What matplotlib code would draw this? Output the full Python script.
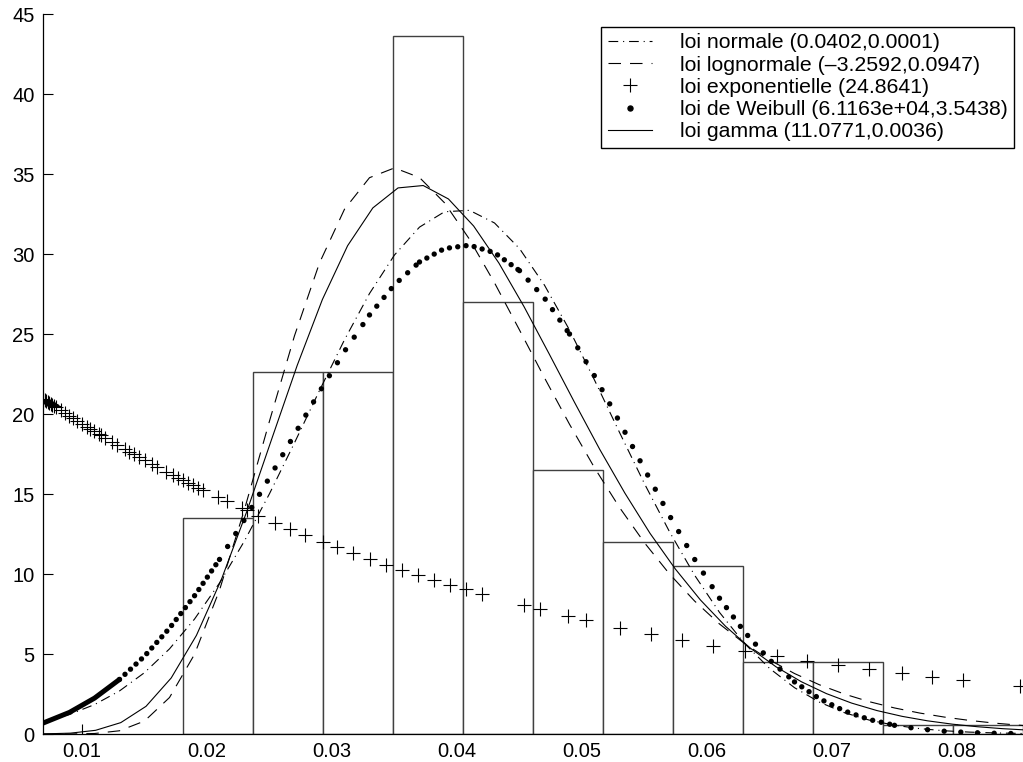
import numpy as np
import matplotlib
matplotlib.use('Agg')
import matplotlib.pyplot as plt
from matplotlib.lines import Line2D

plt.rcParams['font.family'] = ['Liberation Sans', 'DejaVu Sans']
plt.rcParams['lines.scale_dashes'] = False

# histogramme normalise (densite)
bin_edges = [0.01808, 0.02368, 0.02928, 0.03488, 0.04048, 0.04608, 0.05168,
             0.05728, 0.06288, 0.06848, 0.07408, 0.07968, 0.08528]
bin_heights = [13.5, 22.6, 22.6, 43.6, 27.0, 16.5, 12.0, 10.5, 4.5, 4.5, 0.56, 0.56]

# densites ajustees
curve_x = [0.0069, 0.0090, 0.0110, 0.0130, 0.0150, 0.0170, 0.0190, 0.0210, 0.0230, 0.0250,
           0.0270, 0.0290, 0.0310, 0.0330, 0.0350, 0.0370, 0.0390, 0.0410, 0.0430, 0.0450,
           0.0470, 0.0490, 0.0510, 0.0530, 0.0550, 0.0570, 0.0590, 0.0610, 0.0630, 0.0650,
           0.0670, 0.0690, 0.0710, 0.0730, 0.0750, 0.0770, 0.0790, 0.0810, 0.0830, 0.0853]
normal_y = [0.773, 1.222, 1.838, 2.691, 3.835, 5.320, 7.181, 9.435, 12.07, 15.02,
            18.20, 21.47, 24.64, 27.53, 29.94, 31.68, 32.64, 32.73, 31.94, 30.34,
            28.05, 25.25, 22.12, 18.85, 15.64, 12.64, 9.934, 7.600, 5.660, 4.103,
            2.895, 1.988, 1.329, 0.865, 0.548, 0.338, 0.202, 0.118, 0.067, 0.034]
lognormal_y = [0.000, 0.002, 0.031, 0.202, 0.810, 2.279, 4.978, 8.993, 14.04, 19.56,
               24.89, 29.44, 32.80, 34.77, 35.38, 34.78, 33.20, 30.92, 28.20, 25.25,
               22.26, 19.36, 16.64, 14.16, 11.95, 10.00, 8.316, 6.876, 5.656, 4.632,
               3.780, 3.074, 2.493, 2.016, 1.628, 1.312, 1.056, 0.849, 0.681, 0.529]
weibull_y = [0.688, 1.351, 2.242, 3.410, 4.866, 6.613, 8.637, 10.91, 13.40, 16.03,
             18.72, 21.39, 23.92, 26.19, 28.08, 29.50, 30.34, 30.55, 30.08, 28.96,
             27.24, 25.00, 22.38, 19.51, 16.55, 13.65, 10.93, 8.486, 6.379, 4.638,
             3.256, 2.205, 1.438, 0.902, 0.543, 0.313, 0.173, 0.091, 0.046, 0.020]
gamma_x = [0.006956, 0.009072, 0.011089, 0.013105, 0.015121, 0.017137, 0.019153, 0.021169,
           0.023185, 0.025201, 0.027217, 0.029233, 0.031250, 0.033266, 0.035282, 0.037298,
           0.039314, 0.041330, 0.043346, 0.045362, 0.047378, 0.049394, 0.051411, 0.053427,
           0.055443, 0.057459, 0.059475, 0.061491, 0.063507, 0.065523, 0.067539, 0.069555,
           0.071572, 0.073588, 0.075604, 0.077620, 0.079636, 0.081652, 0.083668, 0.085987]
gamma_y = [0.0065, 0.053, 0.231, 0.712, 1.729, 3.502, 6.162, 9.693, 13.91, 18.49,
           23.04, 27.16, 30.52, 32.88, 34.13, 34.28, 33.44, 31.75, 29.44, 26.71,
           23.75, 20.74, 17.80, 15.06, 12.54, 10.32, 8.376, 6.726, 5.342, 4.199,
           3.270, 2.524, 1.931, 1.466, 1.104, 0.826, 0.614, 0.453, 0.332, 0.231]

# loi exponentielle (marqueurs +)
expo_x = [0.00688, 0.00700, 0.00712, 0.00724, 0.00736, 0.00748, 0.00760, 0.00776, 0.00792,
          0.00830, 0.00864, 0.00898, 0.00930, 0.00962, 0.00998, 0.01038, 0.01064, 0.01096,
          0.01138, 0.01152, 0.01184, 0.01238, 0.01282, 0.01344, 0.01378, 0.01416, 0.01458,
          0.01504, 0.01558, 0.01598, 0.01672, 0.01730, 0.01770, 0.01810, 0.01850, 0.01886,
          0.01930, 0.01970, 0.02090, 0.02160, 0.02278, 0.02318, 0.02410, 0.02544, 0.02664,
          0.02784, 0.02926, 0.03038, 0.03166, 0.03304, 0.03432, 0.03560, 0.03688, 0.03816,
          0.03944, 0.04072, 0.04200, 0.04536, 0.04664, 0.04888, 0.05032, 0.05304, 0.05552,
          0.05800, 0.06048, 0.06304, 0.06560, 0.06800, 0.07048, 0.07296, 0.07560, 0.07800,
          0.08048, 0.08504]
expo_y = [20.954, 20.892, 20.830, 20.768, 20.706, 20.644, 20.583, 20.501, 20.420,
          20.227, 20.057, 19.888, 19.731, 19.575, 19.400, 19.208, 19.084, 18.933,
          18.736, 18.671, 18.523, 18.276, 18.077, 17.800, 17.650, 17.484, 17.303,
          17.106, 16.878, 16.711, 16.406, 16.171, 16.011, 15.853, 15.696, 15.556,
          15.387, 15.234, 14.787, 14.532, 14.111, 13.972, 13.656, 13.208, 12.820,
          12.443, 12.011, 11.681, 11.315, 10.934, 10.591, 10.260, 9.938, 9.627,
          9.325, 9.033, 8.750, 8.049, 7.797, 7.375, 7.115, 6.650, 6.252,
          5.878, 5.527, 5.186, 4.866, 4.584, 4.310, 4.052, 3.795, 3.575,
          3.361, 3.001]

labels = ['loi normale (0.0402,0.0001)',
          'loi lognormale (\u20133.2592,0.0947)',
          'loi exponentielle (24.8641)',
          'loi de Weibull (6.1163e+04,3.5438)',
          'loi gamma (11.0771,0.0036)']

normal_ls = (0, (7, 3.5, 0.8, 3.5))
lognormal_ls = (0, (9, 6.5))

fig = plt.figure(figsize=(10.23, 7.62), dpi=100)
ax = fig.add_axes([43 / 1023, 28 / 762, 980 / 1023, 720 / 762])
ax.set_axisbelow(True)

edges = np.array(bin_edges)
ax.bar(edges[:-1], bin_heights, width=np.diff(edges), align='edge',
       facecolor='white', edgecolor='#404040', linewidth=1.0, zorder=1)

ax.plot(curve_x, normal_y, color='k', lw=0.8, linestyle=normal_ls, zorder=3)
ax.plot(curve_x, lognormal_y, color='k', lw=0.8, linestyle=lognormal_ls, zorder=3)
ax.plot(gamma_x, gamma_y, color='k', lw=0.8, zorder=3)

# Weibull : trait epais au debut (points tres serres), puis points
# espaces a peu pres regulierement en x -> ecart le long de la courbe variable
ax.plot(curve_x[:4], weibull_y[:4], color='k', lw=3.6, solid_capstyle='round', zorder=4)
dot_gaps = [(3, 8, 5.4), (7, 14, 11.0), (13, 16, 8.2), (15, 20, 6.0), (19, 22, 9.2),
            (21, 28, 11.6), (27, 31, 8.4), (30, 35, 6.3), (34, 40, 12.0)]
for i0, i1, gap in dot_gaps:
    ax.plot(curve_x[i0:i1], weibull_y[i0:i1], color='k', lw=3.9,
            linestyle=(0, (0.01, gap)), dash_capstyle='round', zorder=4)

ax.plot(expo_x, expo_y, linestyle='none', marker='+', ms=9.5, mew=0.8, color='k', zorder=4)

ax.set_xlim(0.00688, 0.08528)
ax.set_ylim(0, 45)
ax.set_xticks([0.01, 0.02, 0.03, 0.04, 0.05, 0.06, 0.07, 0.08])
ax.set_xticklabels(['0.01', '0.02', '0.03', '0.04', '0.05', '0.06', '0.07', '0.08'])
ax.set_yticks(range(0, 50, 5))
ax.tick_params(direction='in', length=7, width=0.8, labelsize=14.5, pad=6)
ax.spines['top'].set_visible(False)
ax.spines['right'].set_visible(False)
for s in ['left', 'bottom']:
    ax.spines[s].set_linewidth(0.9)

handles = [Line2D([], [], color='k', lw=0.8, linestyle=normal_ls),
           Line2D([], [], color='k', lw=0.8, linestyle=lognormal_ls),
           Line2D([], [], color='k', linestyle='none', marker='+', ms=9.5, mew=0.8),
           Line2D([], [], color='k', linestyle='none', marker='o', ms=3.6),
           Line2D([], [], color='k', lw=0.8)]
leg = ax.legend(handles, labels, loc='upper right',
                bbox_to_anchor=(1014 / 1023, 1 - 27 / 762), bbox_transform=fig.transFigure,
                borderaxespad=0, fontsize=15.3, frameon=True, fancybox=False, framealpha=1,
                edgecolor='k', borderpad=0.3, labelspacing=0.15, handlelength=2.1,
                handletextpad=1.3)
leg.get_frame().set_linewidth(1.0)

fig.savefig('out.png', dpi=100)
